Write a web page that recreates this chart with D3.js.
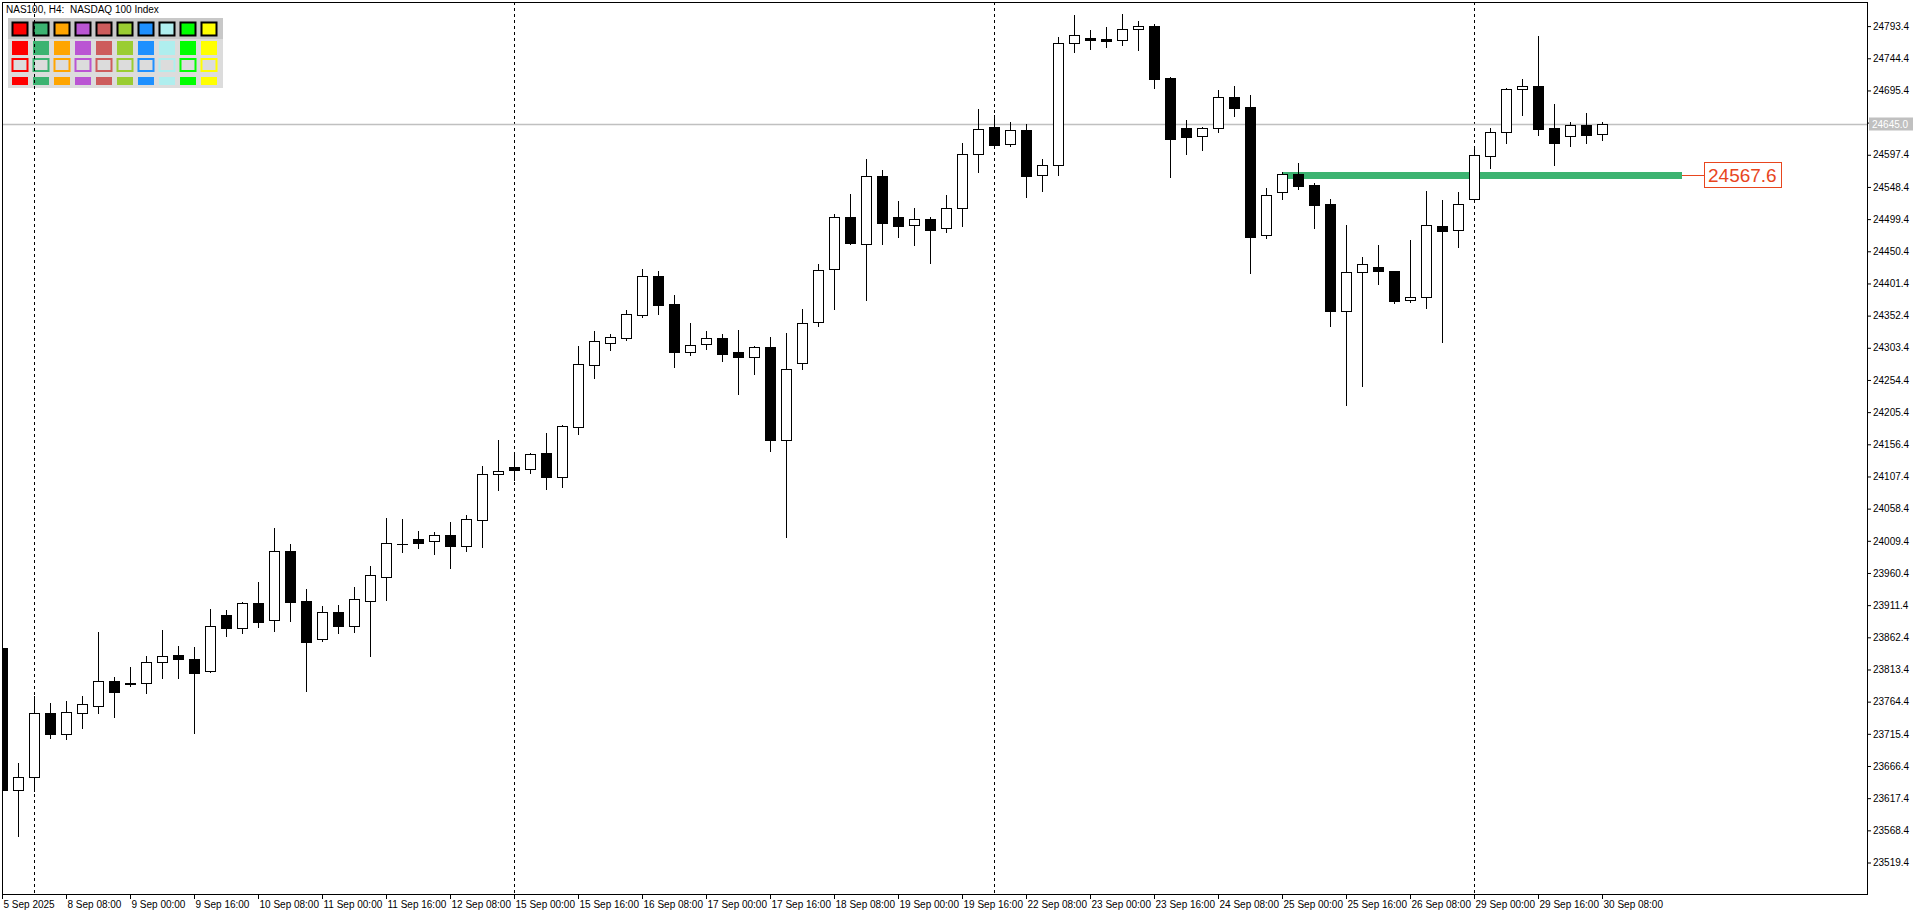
<!DOCTYPE html>
<html>
<head>
<meta charset="utf-8">
<script src="https://cdnjs.cloudflare.com/ajax/libs/d3/7.8.5/d3.min.js"></script>
<style>
body { margin: 0; background: #fff; }
svg text { font-family: Tahoma, "Liberation Sans", Arial, sans-serif; font-size: 10px; }
</style>
</head>
<body>
<div id="chart"></div>
<script>
// H4 bars, 5 Sep 16:00 .. 30 Sep 08:00
var opens = [23845.6, 23630.2, 23650.0, 23746.6, 23715.5, 23747.5, 23758.2, 23795.8, 23791.8, 23793.2,
    23824.3, 23835.4, 23829.3, 23810.6, 23896.3, 23877.0, 23914.6, 23888.3, 23993.8, 23917.7,
    23860.2, 23900.5, 23879.6, 23917.7, 23954.7, 24004.5, 24011.6, 24008.6, 24017.7, 24001.9,
    24040.6, 24111.6, 24121.3, 24118.3, 24142.6, 24107.0, 24183.2, 24277.6, 24310.2, 24318.7,
    24353.8, 24412.3, 24369.6, 24297.4, 24308.7, 24317.8, 24296.5, 24289.8, 24304.1, 24163.4,
    24279.7, 24342.2, 24422.9, 24502.1, 24461.9, 24564.6, 24502.1, 24489.9, 24499.1, 24485.4,
    24515.8, 24598.1, 24639.2, 24613.3, 24634.6, 24566.1, 24581.3, 24767.2, 24775.2, 24773.7,
    24771.7, 24788.5, 24793.5, 24714.3, 24637.7, 24625.5, 24637.7, 24684.9, 24669.7, 24474.7,
    24540.2, 24567.6, 24550.9, 24522.4, 24359.9, 24418.3, 24426.4, 24420.3, 24375.7, 24380.3,
    24488.9, 24483.2, 24530.5, 24596.0, 24631.6, 24697.1, 24701.7, 24637.7, 24625.5, 24642.3,
    24628.6];
var highs = [23852.0, 23671.4, 23773.0, 23762.3, 23765.3, 23773.0, 23870.4, 23801.9, 23817.1, 23833.9,
    23873.5, 23849.1, 23847.6, 23905.5, 23904.0, 23916.1, 23946.6, 24028.9, 24004.5, 23935.9,
    23910.0, 23911.6, 23939.0, 23971.0, 24044.1, 24042.6, 24024.3, 24022.3, 24038.0, 24048.7,
    24123.3, 24162.9, 24144.6, 24143.1, 24173.6, 24185.8, 24306.1, 24328.9, 24324.4, 24360.9,
    24423.4, 24420.3, 24383.8, 24341.1, 24328.9, 24324.4, 24330.5, 24305.6, 24319.8, 24325.9,
    24362.4, 24431.0, 24507.2, 24537.6, 24590.9, 24574.2, 24527.0, 24516.3, 24502.6, 24536.1,
    24615.3, 24667.1, 24658.0, 24647.3, 24644.2, 24590.9, 24776.8, 24810.3, 24787.4, 24792.0,
    24811.8, 24801.1, 24796.6, 24715.8, 24650.3, 24639.7, 24696.0, 24702.1, 24688.4, 24546.8,
    24570.7, 24584.8, 24553.9, 24530.0, 24490.4, 24441.6, 24459.9, 24421.0, 24467.5, 24542.2,
    24528.5, 24540.2, 24610.3, 24638.2, 24698.6, 24712.8, 24778.3, 24674.7, 24647.3, 24661.0,
    24647.3];
var lows = [23622.0, 23559.7, 23628.7, 23709.4, 23707.9, 23724.7, 23747.5, 23741.4, 23788.6, 23778.0,
    23800.8, 23800.8, 23717.1, 23809.1, 23864.8, 23869.4, 23878.5, 23872.4, 23887.7, 23781.0,
    23856.7, 23868.9, 23870.4, 23833.9, 23919.2, 23992.8, 23998.9, 23989.7, 23968.4, 23994.3,
    24000.4, 24087.2, 24102.0, 24113.1, 24088.7, 24091.8, 24172.5, 24257.8, 24300.5, 24315.7,
    24350.7, 24355.3, 24274.6, 24292.4, 24301.5, 24283.7, 24233.4, 24263.9, 24146.6, 24015.6,
    24271.5, 24337.0, 24362.9, 24462.0, 24376.6, 24461.9, 24472.6, 24460.4, 24433.0, 24480.2,
    24489.3, 24571.6, 24610.7, 24611.2, 24533.5, 24542.6, 24567.0, 24754.4, 24758.9, 24762.0,
    24765.0, 24757.4, 24699.5, 24564.0, 24599.0, 24605.1, 24632.5, 24656.4, 24417.7, 24471.1,
    24530.5, 24545.7, 24486.3, 24337.0, 24216.7, 24245.6, 24401.0, 24372.0, 24373.6, 24364.4,
    24312.6, 24457.3, 24525.0, 24577.7, 24615.8, 24658.4, 24627.9, 24582.2, 24611.2, 24615.8,
    24620.3];
var closes = [23629.8, 23649.1, 23746.6, 23715.1, 23748.1, 23760.3, 23795.8, 23779.5, 23792.5, 23824.3,
    23833.4, 23829.8, 23808.4, 23879.1, 23877.0, 23914.2, 23886.1, 23993.8, 23916.1, 23855.7,
    23900.5, 23879.6, 23920.7, 23956.8, 24005.6, 24004.0, 24006.5, 24017.7, 24001.9, 24042.1,
    24110.7, 24115.2, 24117.7, 24141.1, 24107.0, 24183.8, 24278.2, 24313.2, 24319.3, 24354.4,
    24412.3, 24369.0, 24297.4, 24307.2, 24317.8, 24294.4, 24289.8, 24304.1, 24163.4, 24270.6,
    24340.7, 24421.4, 24502.1, 24463.4, 24564.6, 24493.9, 24489.3, 24499.1, 24483.2, 24515.8,
    24598.1, 24636.2, 24612.7, 24634.6, 24565.5, 24581.3, 24767.2, 24779.4, 24772.6, 24771.1,
    24788.5, 24793.1, 24713.2, 24621.9, 24624.9, 24637.7, 24684.9, 24669.1, 24472.6, 24535.6,
    24567.6, 24550.3, 24521.3, 24359.9, 24418.3, 24430.5, 24420.8, 24375.1, 24380.3, 24489.9,
    24481.7, 24521.9, 24596.6, 24631.6, 24697.1, 24701.7, 24637.1, 24615.8, 24642.3, 24627.9,
    24645.0];

var priceTicks = [24793.4, 24744.4, 24695.4, 24646.4, 24597.4, 24548.4, 24499.4, 24450.4, 24401.4,
    24352.4, 24303.4, 24254.4, 24205.4, 24156.4, 24107.4, 24058.4, 24009.4, 23960.4, 23911.4,
    23862.4, 23813.4, 23764.4, 23715.4, 23666.4, 23617.4, 23568.4, 23519.4];
var timeTickBars = [0, 4, 8, 12, 16, 20, 24, 28, 32, 36, 40, 44, 48, 52, 56, 60, 64, 68, 72, 76, 80, 84, 88, 92, 96, 100];
var timeTickLabels = ["5 Sep 2025", "8 Sep 08:00", "9 Sep 00:00", "9 Sep 16:00", "10 Sep 08:00",
    "11 Sep 00:00", "11 Sep 16:00", "12 Sep 08:00", "15 Sep 00:00", "15 Sep 16:00", "16 Sep 08:00",
    "17 Sep 00:00", "17 Sep 16:00", "18 Sep 08:00", "19 Sep 00:00", "19 Sep 16:00", "22 Sep 08:00",
    "23 Sep 00:00", "23 Sep 16:00", "24 Sep 08:00", "25 Sep 00:00", "25 Sep 16:00", "26 Sep 08:00",
    "29 Sep 00:00", "29 Sep 16:00", "30 Sep 08:00"];
var weekStartBars = [2, 32, 62, 92];
var lastPrice = 24645.0;
var levelPrice = 24567.6;
var levelBars = [80, 105];
var paletteColors = ["#ff0000", "#3cb371", "#ffa500", "#ba55d3", "#cd5c5c", "#9acd32", "#1e90ff", "#afeeee", "#00ff00", "#ffff00"];
var chartTitle = "NAS100, H4:  NASDAQ 100 Index";

var plotLeft = 2, plotTop = 2, plotRight = 1867, plotBottom = 894;
var levelColor = "#e8461e";

var x = d3.scaleLinear().domain([0, 100]).range([2, 1602]);
var y = d3.scaleLinear().domain([23519.4, 24793.4]).range([862.5, 26.1]);

var svg = d3.select("#chart")
    .append("svg")
    .attr("width", 1920)
    .attr("height", 915);

svg.append("rect")
    .attr("width", 1920)
    .attr("height", 915)
    .attr("fill", "#fff");

svg.append("clipPath")
    .attr("id", "plot-clip")
    .append("rect")
    .attr("x", plotLeft + 1)
    .attr("y", plotTop + 1)
    .attr("width", plotRight - plotLeft - 1)
    .attr("height", plotBottom - plotTop - 1);

// palette panel in the corner
var panel = svg.append("g");
panel.append("rect")
    .attr("x", 8).attr("y", 18).attr("width", 215).attr("height", 70)
    .attr("fill", "#dcdcdc");
panel.append("rect")
    .attr("x", 8).attr("y", 18).attr("width", 215).attr("height", 21)
    .attr("fill", "#c8c8c8");

panel.selectAll(".sw1").data(paletteColors).enter().append("rect")
    .attr("x", function (d, i) { return 12.5 + i * 21; })
    .attr("y", 22.5).attr("width", 15).attr("height", 13)
    .attr("fill", function (d) { return d; })
    .attr("stroke", "#000").attr("stroke-width", 2);
panel.selectAll(".sw2").data(paletteColors).enter().append("rect")
    .attr("x", function (d, i) { return 12 + i * 21; })
    .attr("y", 41).attr("width", 16).attr("height", 14)
    .attr("fill", function (d) { return d; });
panel.selectAll(".sw3").data(paletteColors).enter().append("rect")
    .attr("x", function (d, i) { return 12.5 + i * 21; })
    .attr("y", 59).attr("width", 15).attr("height", 12)
    .attr("fill", "#dcdcdc")
    .attr("stroke", function (d) { return d; }).attr("stroke-width", 2);
panel.selectAll(".sw4").data(paletteColors).enter().append("rect")
    .attr("x", function (d, i) { return 12 + i * 21; })
    .attr("y", 77).attr("width", 16).attr("height", 8)
    .attr("fill", function (d) { return d; });

var plot = svg.append("g").attr("clip-path", "url(#plot-clip)");

// week separators
plot.selectAll(".sep").data(weekStartBars).enter().append("line")
    .attr("x1", function (d) { return Math.round(x(d)) + 0.5; })
    .attr("x2", function (d) { return Math.round(x(d)) + 0.5; })
    .attr("y1", plotTop)
    .attr("y2", plotBottom)
    .attr("stroke", "#000")
    .attr("stroke-dasharray", "3,3");

// last price line
var yLast = Math.round(y(lastPrice)) + 0.5;
plot.append("line")
    .attr("x1", plotLeft).attr("x2", plotRight)
    .attr("y1", yLast).attr("y2", yLast)
    .attr("stroke", "#c0c0c0")
    .attr("stroke-width", 1.5);

// level line
var yLevel = Math.round(y(levelPrice));
plot.append("rect")
    .attr("x", Math.round(x(levelBars[0])))
    .attr("y", yLevel - 2)
    .attr("width", Math.round(x(levelBars[1])) - Math.round(x(levelBars[0])))
    .attr("height", 7)
    .attr("fill", "#3cb371");

// candles
var bars = d3.range(opens.length).map(function (i) {
    return { i: i, o: opens[i], h: highs[i], l: lows[i], c: closes[i] };
});

var candle = plot.selectAll(".candle")
    .data(bars)
    .enter()
    .append("g")
    .attr("class", "candle");

candle.append("line")
    .attr("x1", function (d) { return Math.round(x(d.i)) + 0.5; })
    .attr("x2", function (d) { return Math.round(x(d.i)) + 0.5; })
    .attr("y1", function (d) { return Math.round(y(d.h)); })
    .attr("y2", function (d) { return Math.round(y(d.l)) + 1; })
    .attr("stroke", "#000");

candle.each(function (d) {
    var g = d3.select(this);
    var cx = Math.round(x(d.i));
    var t = Math.round(y(Math.max(d.o, d.c)));
    var b = Math.round(y(Math.min(d.o, d.c)));
    if (b - t < 1) {
        g.append("line")
            .attr("x1", cx - 5).attr("x2", cx + 6)
            .attr("y1", t + 0.5).attr("y2", t + 0.5)
            .attr("stroke", "#000");
    } else {
        g.append("rect")
            .attr("x", cx - 4.5)
            .attr("y", t + 0.5)
            .attr("width", 10)
            .attr("height", b - t)
            .attr("fill", d.c >= d.o ? "#fff" : "#000")
            .attr("stroke", "#000");
    }
});

// level label
svg.append("line")
    .attr("x1", Math.round(x(levelBars[1]))).attr("x2", 1704)
    .attr("y1", yLevel + 1.5).attr("y2", yLevel + 1.5)
    .attr("stroke", levelColor);
svg.append("rect")
    .attr("x", 1704.5).attr("y", yLevel - 11.5)
    .attr("width", 77).attr("height", 25)
    .attr("fill", "#fff")
    .attr("stroke", levelColor);
svg.append("text")
    .attr("x", 1708).attr("y", yLevel + 8)
    .attr("fill", levelColor)
    .style("font-size", "19px")
    .style("font-family", "'Liberation Sans', Arial, sans-serif")
    .text(levelPrice.toFixed(1));

// frame
svg.append("rect")
    .attr("x", plotLeft + 0.5).attr("y", plotTop + 0.5)
    .attr("width", plotRight - plotLeft).attr("height", plotBottom - plotTop)
    .attr("fill", "none")
    .attr("stroke", "#000");

// price axis
var yAxis = svg.append("g")
    .attr("transform", "translate(" + plotRight + ",0)")
    .call(d3.axisRight(y).tickValues(priceTicks).tickSize(4).tickPadding(2).tickFormat(d3.format(".1f")));
yAxis.select(".domain").remove();
yAxis.selectAll("text").attr("fill", "#000").style("font-size", "10px");

// last price tag
svg.append("rect")
    .attr("x", plotRight + 2).attr("y", yLast - 7)
    .attr("width", 44).attr("height", 13)
    .attr("fill", "#c0c0c0");
svg.append("text")
    .attr("x", plotRight + 5).attr("y", yLast + 3.5)
    .attr("fill", "#fff")
    .text(lastPrice.toFixed(1));

// time axis
var xAxis = svg.append("g")
    .attr("transform", "translate(0," + plotBottom + ")")
    .call(d3.axisBottom(x).tickValues(timeTickBars).tickSize(5).tickFormat(function (d, i) { return timeTickLabels[i]; }));
xAxis.select(".domain").remove();
xAxis.selectAll("text")
    .attr("text-anchor", "start")
    .attr("x", 1)
    .attr("y", 7)
    .attr("fill", "#000")
    .style("font-size", "10px");

svg.append("text")
    .attr("x", 6).attr("y", 13)
    .attr("fill", "#000")
    .style("white-space", "pre")
    .text(chartTitle);
</script>
</body>
</html>
